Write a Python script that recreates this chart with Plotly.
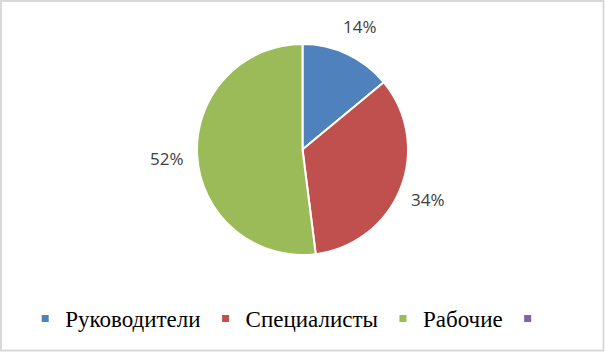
import math
import plotly.graph_objects as go

categories = ["Руководители", "Специалисты", "Рабочие", ""]
values = [14, 34, 52]
colors = ["#4F81BD", "#C0504D", "#9BBB59", "#8064A2"]

W, H = 605, 352
cx, cy, R = 302.5, 149.5, 105.5  # pie centre/radius in px (from top)

fig = go.Figure()
fig.add_trace(go.Pie(
    labels=categories[:3], values=values, sort=False, direction="clockwise",
    rotation=0, marker=dict(colors=colors[:3], line=dict(color="white", width=2)),
    textinfo="none", hoverinfo="label+percent", showlegend=False,
    domain=dict(x=[(cx - R) / W, (cx + R) / W], y=[(H - cy - R) / H, (H - cy + R) / H]),
))

# legend entries
for name, col in zip(categories, colors):
    fig.add_trace(go.Scatter(x=[None], y=[None], mode="markers", name=name,
                             marker=dict(symbol="square", size=7, color=col),
                             showlegend=True))

# percentage labels placed along slice mid-angles
total = sum(values)
cum = 0
annotations = []
for v in values:
    mid = (cum + v / 2) / total * 2 * math.pi
    cum += v
    r = R + 30
    x = cx + r * math.sin(mid)
    y = cy - r * math.cos(mid)
    annotations.append(dict(x=x / W, y=1 - y / H, xref="paper", yref="paper",
                            xanchor="center", yanchor="middle",
                            text=f"{round(v / total * 100)}%", showarrow=False,
                            font=dict(family="Open Sans", size=17, color="#404040")))

fig.update_layout(
    width=W, height=H, margin=dict(l=0, r=0, t=0, b=0),
    paper_bgcolor="white", plot_bgcolor="white",
    xaxis=dict(visible=False), yaxis=dict(visible=False),
    legend=dict(orientation="h", x=0.478, xanchor="center", y=0.095, yanchor="middle",
                font=dict(family="'Liberation Serif', 'Times New Roman', serif", size=23, color="black"),
                itemwidth=30, bgcolor="rgba(0,0,0,0)"),
    annotations=annotations,
    shapes=[dict(type="rect", xref="paper", yref="paper",
                 x0=1 / W, x1=(W - 1.5) / W, y0=1.5 / H, y1=1 - 1 / H,
                 line=dict(color="#D9D9D9", width=2), fillcolor="rgba(0,0,0,0)")],
)

fig.write_html("out.html")
